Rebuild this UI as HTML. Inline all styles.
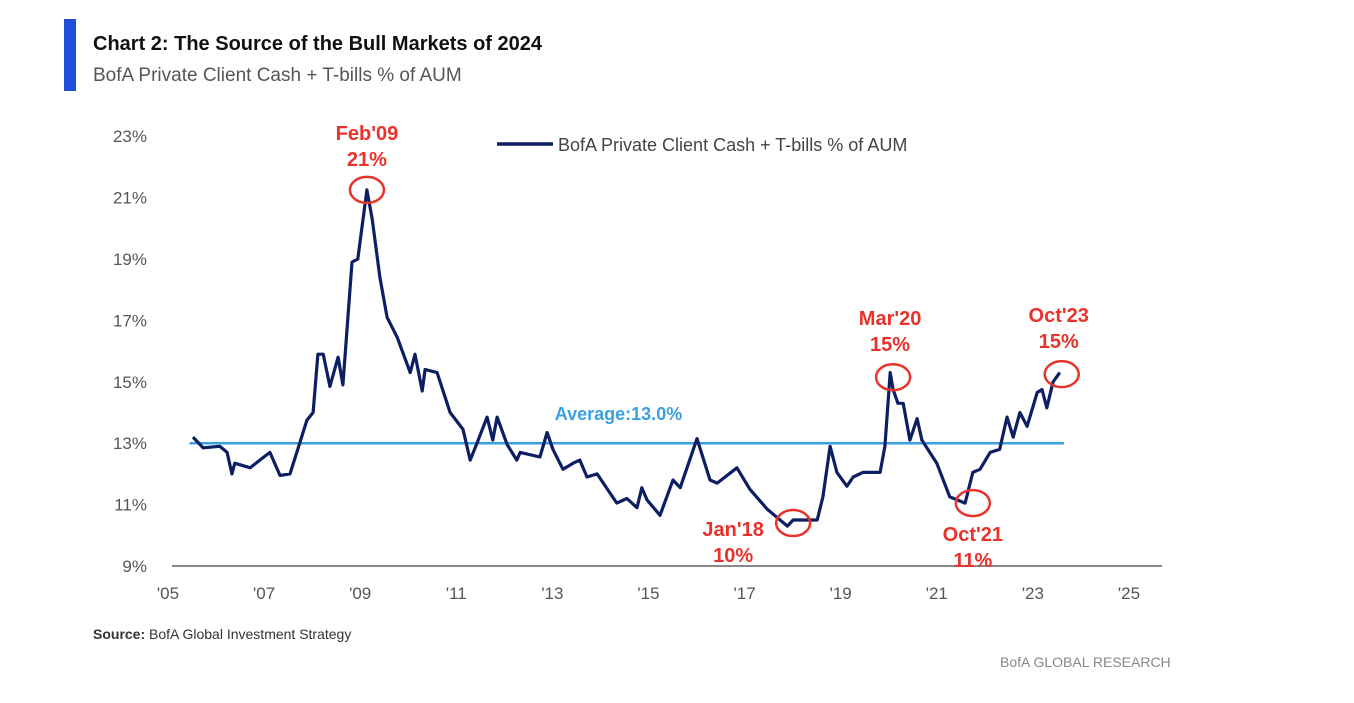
<!DOCTYPE html>
<html><head><meta charset="utf-8"><style>
body{margin:0;background:#fff;width:1354px;height:698px;overflow:hidden;font-family:"Liberation Sans",sans-serif}
</style></head><body>
<svg width="1354" height="698" xmlns="http://www.w3.org/2000/svg" font-family="Liberation Sans, sans-serif">
<rect x="64" y="19" width="12" height="72" fill="#1f4fd8"/>
<text x="93" y="50" font-size="20" font-weight="bold" fill="#111">Chart 2: The Source of the Bull Markets of 2024</text>
<text x="93" y="81" font-size="19" fill="#555">BofA Private Client Cash + T-bills % of AUM</text>
<g id="yaxis"></g>
<g id="xaxis"></g>
<line x1="172" y1="566" x2="1162" y2="566" stroke="#888" stroke-width="2"/>
<g id="avg"></g>
<path id="series" fill="none" stroke="#0d1f63" stroke-width="3.2" stroke-linejoin="round"/>
<g id="ann"></g>
<line x1="497" y1="144" x2="553" y2="144" stroke="#0d1f63" stroke-width="3.5"/>
<text x="558" y="151" font-size="18" fill="#444">BofA Private Client Cash + T-bills % of AUM</text>
<text x="93" y="639" font-size="14" fill="#333"><tspan font-weight="bold">Source:</tspan> BofA Global Investment Strategy</text>
<text x="1000" y="667" font-size="14" fill="#888">BofA GLOBAL RESEARCH</text>
</svg>
<script>
const yTicks=[9,11,13,15,17,19,21,23];
const xTicks=[2005,2007,2009,2011,2013,2015,2017,2019,2021,2023,2025];
const xTickLabels=["'05","'07","'09","'11","'13","'15","'17","'19","'21","'23","'25"];
const average=13.0;
const years=[2005.52,2005.73,2006.08,2006.23,2006.33,2006.39,2006.71,2006.91,2007.12,2007.33,2007.54,2007.68,2007.89,2008.02,2008.12,2008.23,2008.37,2008.54,2008.64,2008.83,2008.95,2009.14,2009.25,2009.41,2009.56,2009.77,2010.04,2010.14,2010.29,2010.35,2010.60,2010.87,2011.14,2011.29,2011.43,2011.64,2011.76,2011.85,2012.06,2012.26,2012.33,2012.74,2012.89,2013.01,2013.22,2013.43,2013.57,2013.72,2013.93,2014.34,2014.55,2014.76,2014.86,2014.97,2015.24,2015.51,2015.66,2016.01,2016.28,2016.43,2016.84,2017.11,2017.47,2017.89,2018.01,2018.51,2018.63,2018.78,2018.92,2019.13,2019.26,2019.46,2019.82,2019.92,2020.03,2020.09,2020.19,2020.30,2020.44,2020.59,2020.69,2021.00,2021.27,2021.59,2021.75,2021.90,2022.11,2022.31,2022.46,2022.59,2022.73,2022.88,2023.09,2023.19,2023.29,2023.42,2023.56];
const values=[13.2,12.85,12.9,12.7,12.0,12.35,12.2,12.45,12.7,11.95,12.0,12.7,13.75,14.0,15.9,15.9,14.85,15.8,14.9,18.9,19.0,21.25,20.3,18.4,17.1,16.45,15.3,15.9,14.7,15.4,15.3,14.0,13.45,12.45,13.0,13.85,13.1,13.85,12.95,12.45,12.7,12.55,13.35,12.8,12.15,12.35,12.45,11.9,12.0,11.05,11.2,10.9,11.55,11.15,10.65,11.8,11.55,13.15,11.8,11.7,12.2,11.5,10.85,10.3,10.5,10.5,11.25,12.9,12.05,11.6,11.9,12.05,12.05,12.9,15.3,14.75,14.3,14.3,13.1,13.8,13.1,12.35,11.25,11.05,12.05,12.15,12.7,12.8,13.85,13.2,14.0,13.55,14.65,14.75,14.15,15.0,15.3];
const annLabels=["Feb'09","Jan'18","Mar'20","Oct'21","Oct'23"];
const annPct=["21%","10%","15%","11%","15%"];
const annYear=[2009.14,2018.01,2020.09,2021.75,2023.6];
const annVal=[21.25,10.4,15.15,11.05,15.25];
const annDy=[-50,13,-52,38,-52];
const annDx=[0,-60,-3,0,-3];

const NS="http://www.w3.org/2000/svg";
const X=y=>168+(y-2005)*48.05;
const Y=v=>566-(v-9)*30.7;
function mk(tag,attrs,parent,txt){const e=document.createElementNS(NS,tag);for(const k in attrs)e.setAttribute(k,attrs[k]);if(txt!==undefined)e.textContent=txt;parent.appendChild(e);return e;}
const ya=document.getElementById('yaxis');
yTicks.forEach(t=>{const e=mk('text',{x:147,y:Y(t)+6,'font-size':17,fill:'#555','text-anchor':'end'},ya,t+'%');

});
const xa=document.getElementById('xaxis');
xTicks.forEach((t,i)=>{const e=mk('text',{x:X(t),y:599,'font-size':17,fill:'#555','text-anchor':'middle'},xa,xTickLabels[i]);

});
const av=document.getElementById('avg');
const al=mk('line',{x1:X(2005.45),x2:X(2023.65),y1:Y(average),y2:Y(average),stroke:'#3aa0e0','stroke-width':2.5},av);


const at=mk('text',{x:X(2013.05),y:Y(average)-23,'font-size':18,fill:'#3aa0e0','font-weight':'bold'},av,'Average:'+average.toFixed(1)+'%');


document.getElementById('series').setAttribute('d',years.map((y,i)=>(i?'L':'M')+X(y).toFixed(1)+','+Y(values[i]).toFixed(1)).join(''));
const an=document.getElementById('ann');
annLabels.forEach((l,i)=>{const cx=X(annYear[i]),cy=Y(annVal[i]);
const c=mk('ellipse',{cx:cx,cy:cy,rx:17,ry:13,fill:'none',stroke:'#e8322a','stroke-width':2.5},an);


const tx=cx+annDx[i];const y1=cy+annDy[i],y2=y1+26;
const t1=mk('text',{x:tx,y:y1,'font-size':20,'font-weight':'bold',fill:'#e8322a','text-anchor':'middle'},an,l);


const t2=mk('text',{x:tx,y:y2,'font-size':20,'font-weight':'bold',fill:'#e8322a','text-anchor':'middle'},an,annPct[i]);

});
</script>
</body></html>
